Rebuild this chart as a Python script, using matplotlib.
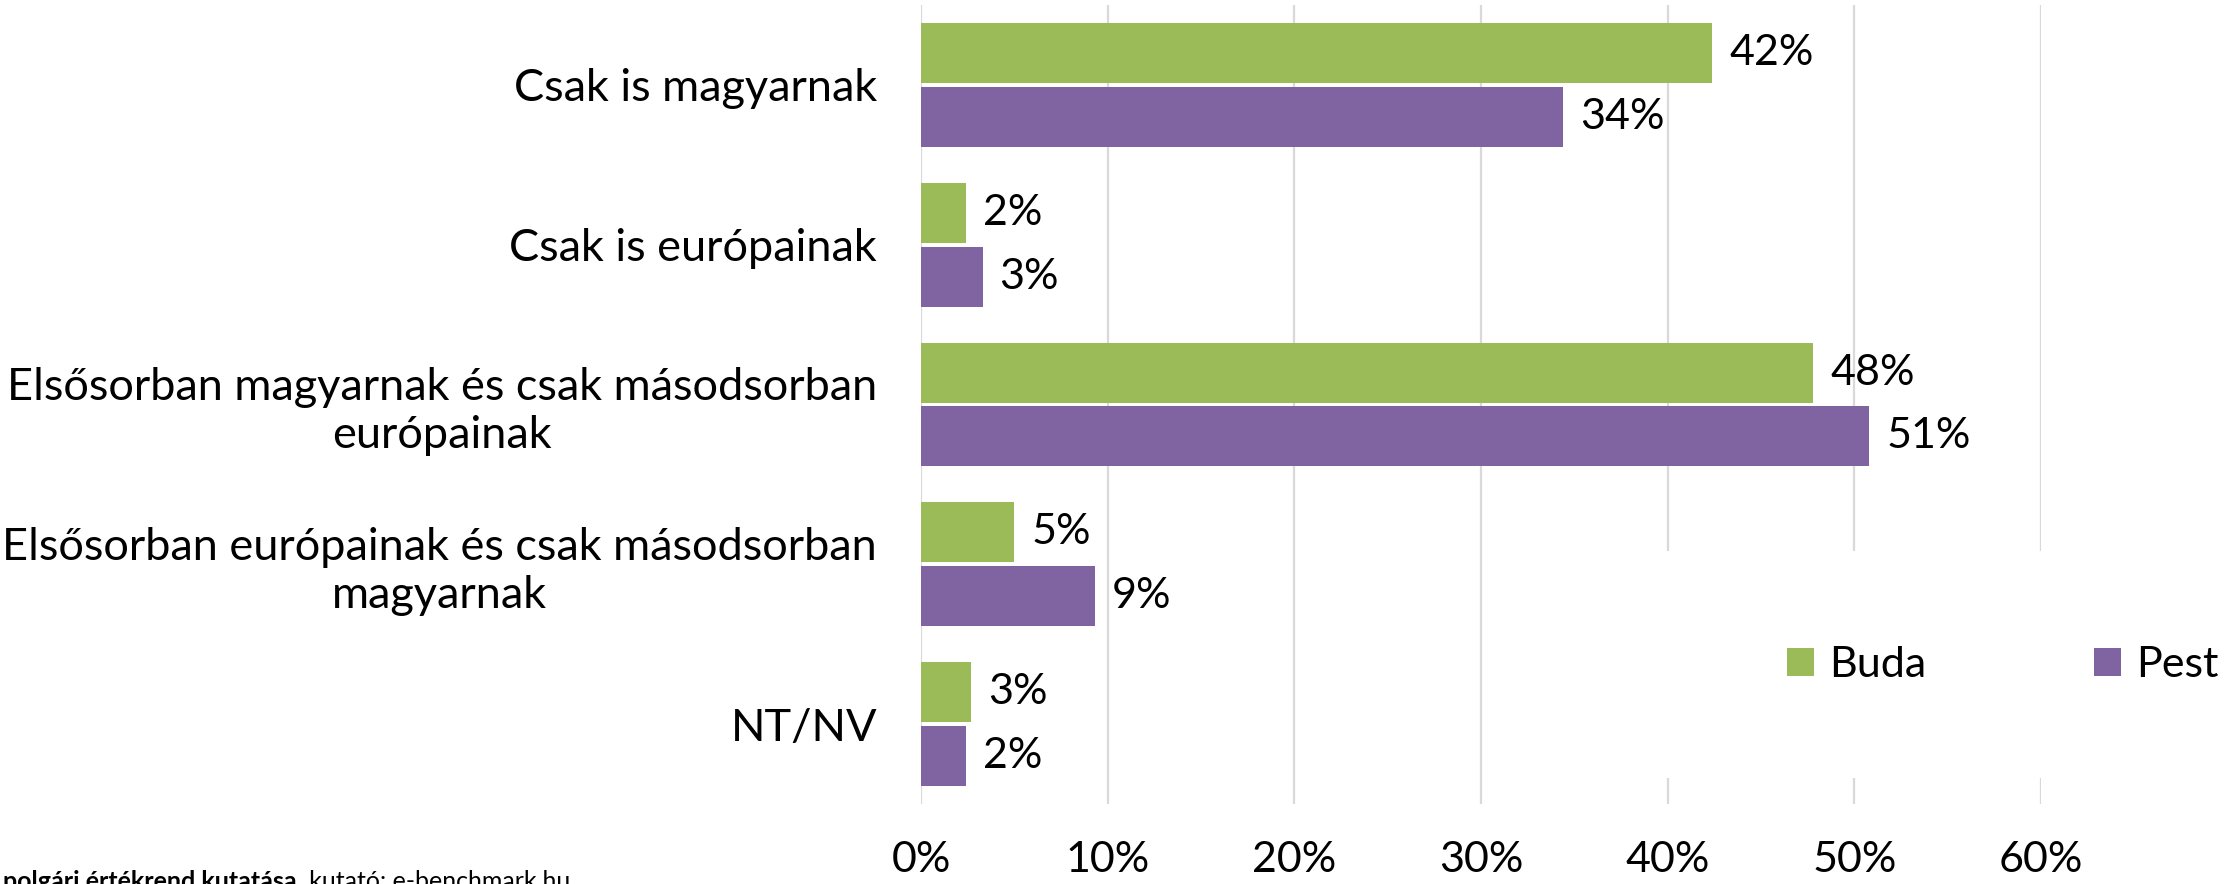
#!/usr/bin/env python3
"""Buda vs Pest: national / European identity, horizontal grouped bars."""

import numpy as np
import matplotlib
matplotlib.use("Agg")
import matplotlib.pyplot as plt
from matplotlib.patches import Patch, Rectangle
from matplotlib.ticker import FuncFormatter
from matplotlib.transforms import Affine2D

# Data
categories = [
    "Csak is magyarnak",
    "Csak is európainak",
    "Elsősorban magyarnak és csak másodsorban\neurópainak",
    "Elsősorban európainak és csak másodsorban\nmagyarnak",
    "NT/NV",
]
buda = [0.424, 0.024, 0.478, 0.050, 0.027]
pest = [0.344, 0.033, 0.508, 0.093, 0.024]
buda_labels = ["42%", "2%", "48%", "5%", "3%"]
pest_labels = ["34%", "3%", "51%", "9%", "2%"]
series_names = ["Buda", "Pest"]
xticks = [0, 0.1, 0.2, 0.3, 0.4, 0.5, 0.6]

GREEN = "#9BBB59"
PURPLE = "#8064A2"
FONT = "Lato"
FS = 31
FS_CAT = 32.5

W, H = 2236, 884
plt.rcParams["font.family"] = [FONT, "DejaVu Sans"]

fig = plt.figure(figsize=(W / 100, H / 100), dpi=100)
ax = fig.add_axes([921 / W, 1 - 804 / H, (2041 - 921) / W, (804 - 5) / H])

y = np.arange(len(categories))
bh = 0.375
off = 0.2
ax.barh(y - off, buda, bh, color=GREEN, zorder=2)
ax.barh(y + off, pest, bh, color=PURPLE, zorder=2)

# value labels
pad = 0.009
for i in range(len(categories)):
    ax.text(buda[i] + pad, y[i] - off, buda_labels[i], va="center", ha="left", fontsize=FS)
    ax.text(pest[i] + pad, y[i] + off, pest_labels[i], va="center", ha="left", fontsize=FS)

ax.set_ylim(len(categories) - 0.5, -0.5)
ax.set_xlim(0, 0.6)
ax.set_yticks(y)
ax.set_yticklabels(categories, fontsize=FS_CAT, ha="center", linespacing=1.2)
ax.tick_params(axis="y", length=0, pad=0)
ax.set_xticks(xticks)
ax.xaxis.set_major_formatter(FuncFormatter(lambda v, _: f"{v:.0%}"))
ax.tick_params(axis="x", length=0, pad=27, labelsize=FS)

ax.grid(axis="x", color="#D9D9D9", linewidth=1.6, zorder=0)
ax.set_axisbelow(True)
for s in ax.spines.values():
    s.set_visible(False)

# centered category labels in a column whose right edge is ~877px
fig.canvas.draw()
renderer = fig.canvas.get_renderer()
for lab in ax.get_yticklabels():
    bb = lab.get_window_extent(renderer)
    lab.set_transform(lab.get_transform() + Affine2D().translate(877 - bb.x1, 0))

# white box behind legend (hides gridlines like the original)
ax.add_patch(Rectangle((1600 / W, 1 - 778 / H), (W - 1600) / W, (778 - 551) / H,
                       transform=fig.transFigure, facecolor="white", edgecolor="none",
                       zorder=2.5, clip_on=False))

handles = [Patch(facecolor=GREEN), Patch(facecolor=PURPLE)]
leg = fig.legend(handles, series_names, loc="center left",
                 bbox_to_anchor=(1787 / W, 1 - 665 / H), ncol=2, frameon=False,
                 fontsize=FS, handlelength=0.62, handleheight=0.62,
                 handletextpad=0.36, columnspacing=3.9, borderpad=0, borderaxespad=0)
leg.set_zorder(3)

# source line, cut off at the bottom-left edge like the original
src_bold = fig.text(3 / W, 1 - 870 / H, "polgári értékrend kutatása", fontsize=18,
                    fontweight="bold", ha="left", va="top")
fig.canvas.draw()
bx = src_bold.get_window_extent(renderer).x1
fig.text(bx / W, 1 - 870 / H, ", kutató: e-benchmark.hu", fontsize=18,
         ha="left", va="top")

fig.savefig("out.png", dpi=100)
